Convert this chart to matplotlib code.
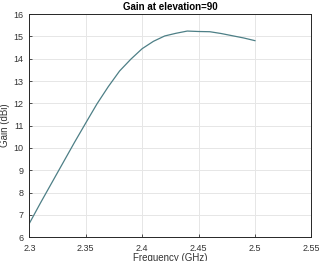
import numpy as np
import matplotlib
matplotlib.use('Agg')
from matplotlib import pyplot as plt

# gain vs frequency
freq = [2.30, 2.31, 2.32, 2.33, 2.34, 2.35, 2.36, 2.37, 2.38, 2.39, 2.40,
        2.41, 2.42, 2.43, 2.44, 2.45, 2.46, 2.47, 2.48, 2.49, 2.50]
gain = [6.62, 7.55, 8.45, 9.35, 10.25, 11.12, 11.98, 12.75, 13.45, 13.98, 14.45,
        14.78, 15.02, 15.14, 15.24, 15.22, 15.21, 15.13, 15.03, 14.93, 14.81]
xticks = [2.3, 2.35, 2.4, 2.45, 2.5, 2.55]
xticklabels = ['2.3', '2.35', '2.4', '2.45', '2.5', '2.55']
yticks = list(range(6, 17))

plt.rcParams['font.family'] = ['Liberation Sans', 'DejaVu Sans']

fig = plt.figure(figsize=(3.19, 2.61), dpi=100)
ax = fig.add_axes([0.092, 0.091, 0.884, 0.855])
ax.plot(freq, gain, color='#4d7f86', lw=0.9)

ax.set_xlim(2.3, 2.55)
ax.set_ylim(6, 16)
ax.set_xticks(xticks)
ax.set_xticklabels(xticklabels)
ax.set_yticks(yticks)
ax.grid(True, color='#e6e6e6', lw=0.7)
ax.set_axisbelow(True)
ax.tick_params(direction='in', length=2.5, width=0.6, labelsize=6.5,
               colors='#333333')
ax.tick_params(axis='x', pad=5)
ax.tick_params(axis='y', pad=4)
for s in ax.spines.values():
    s.set_color('#262626')
    s.set_linewidth(0.7)

ax.set_title('Gain at elevation=90', fontsize=7, fontweight='bold', pad=3)
ax.set_xlabel('Frequency (GHz)', fontsize=7, color='#333333', labelpad=0)
ax.set_ylabel('Gain (dBi)', fontsize=7, color='#333333', labelpad=3)

plt.savefig('out.png', dpi=100)
plt.close()
